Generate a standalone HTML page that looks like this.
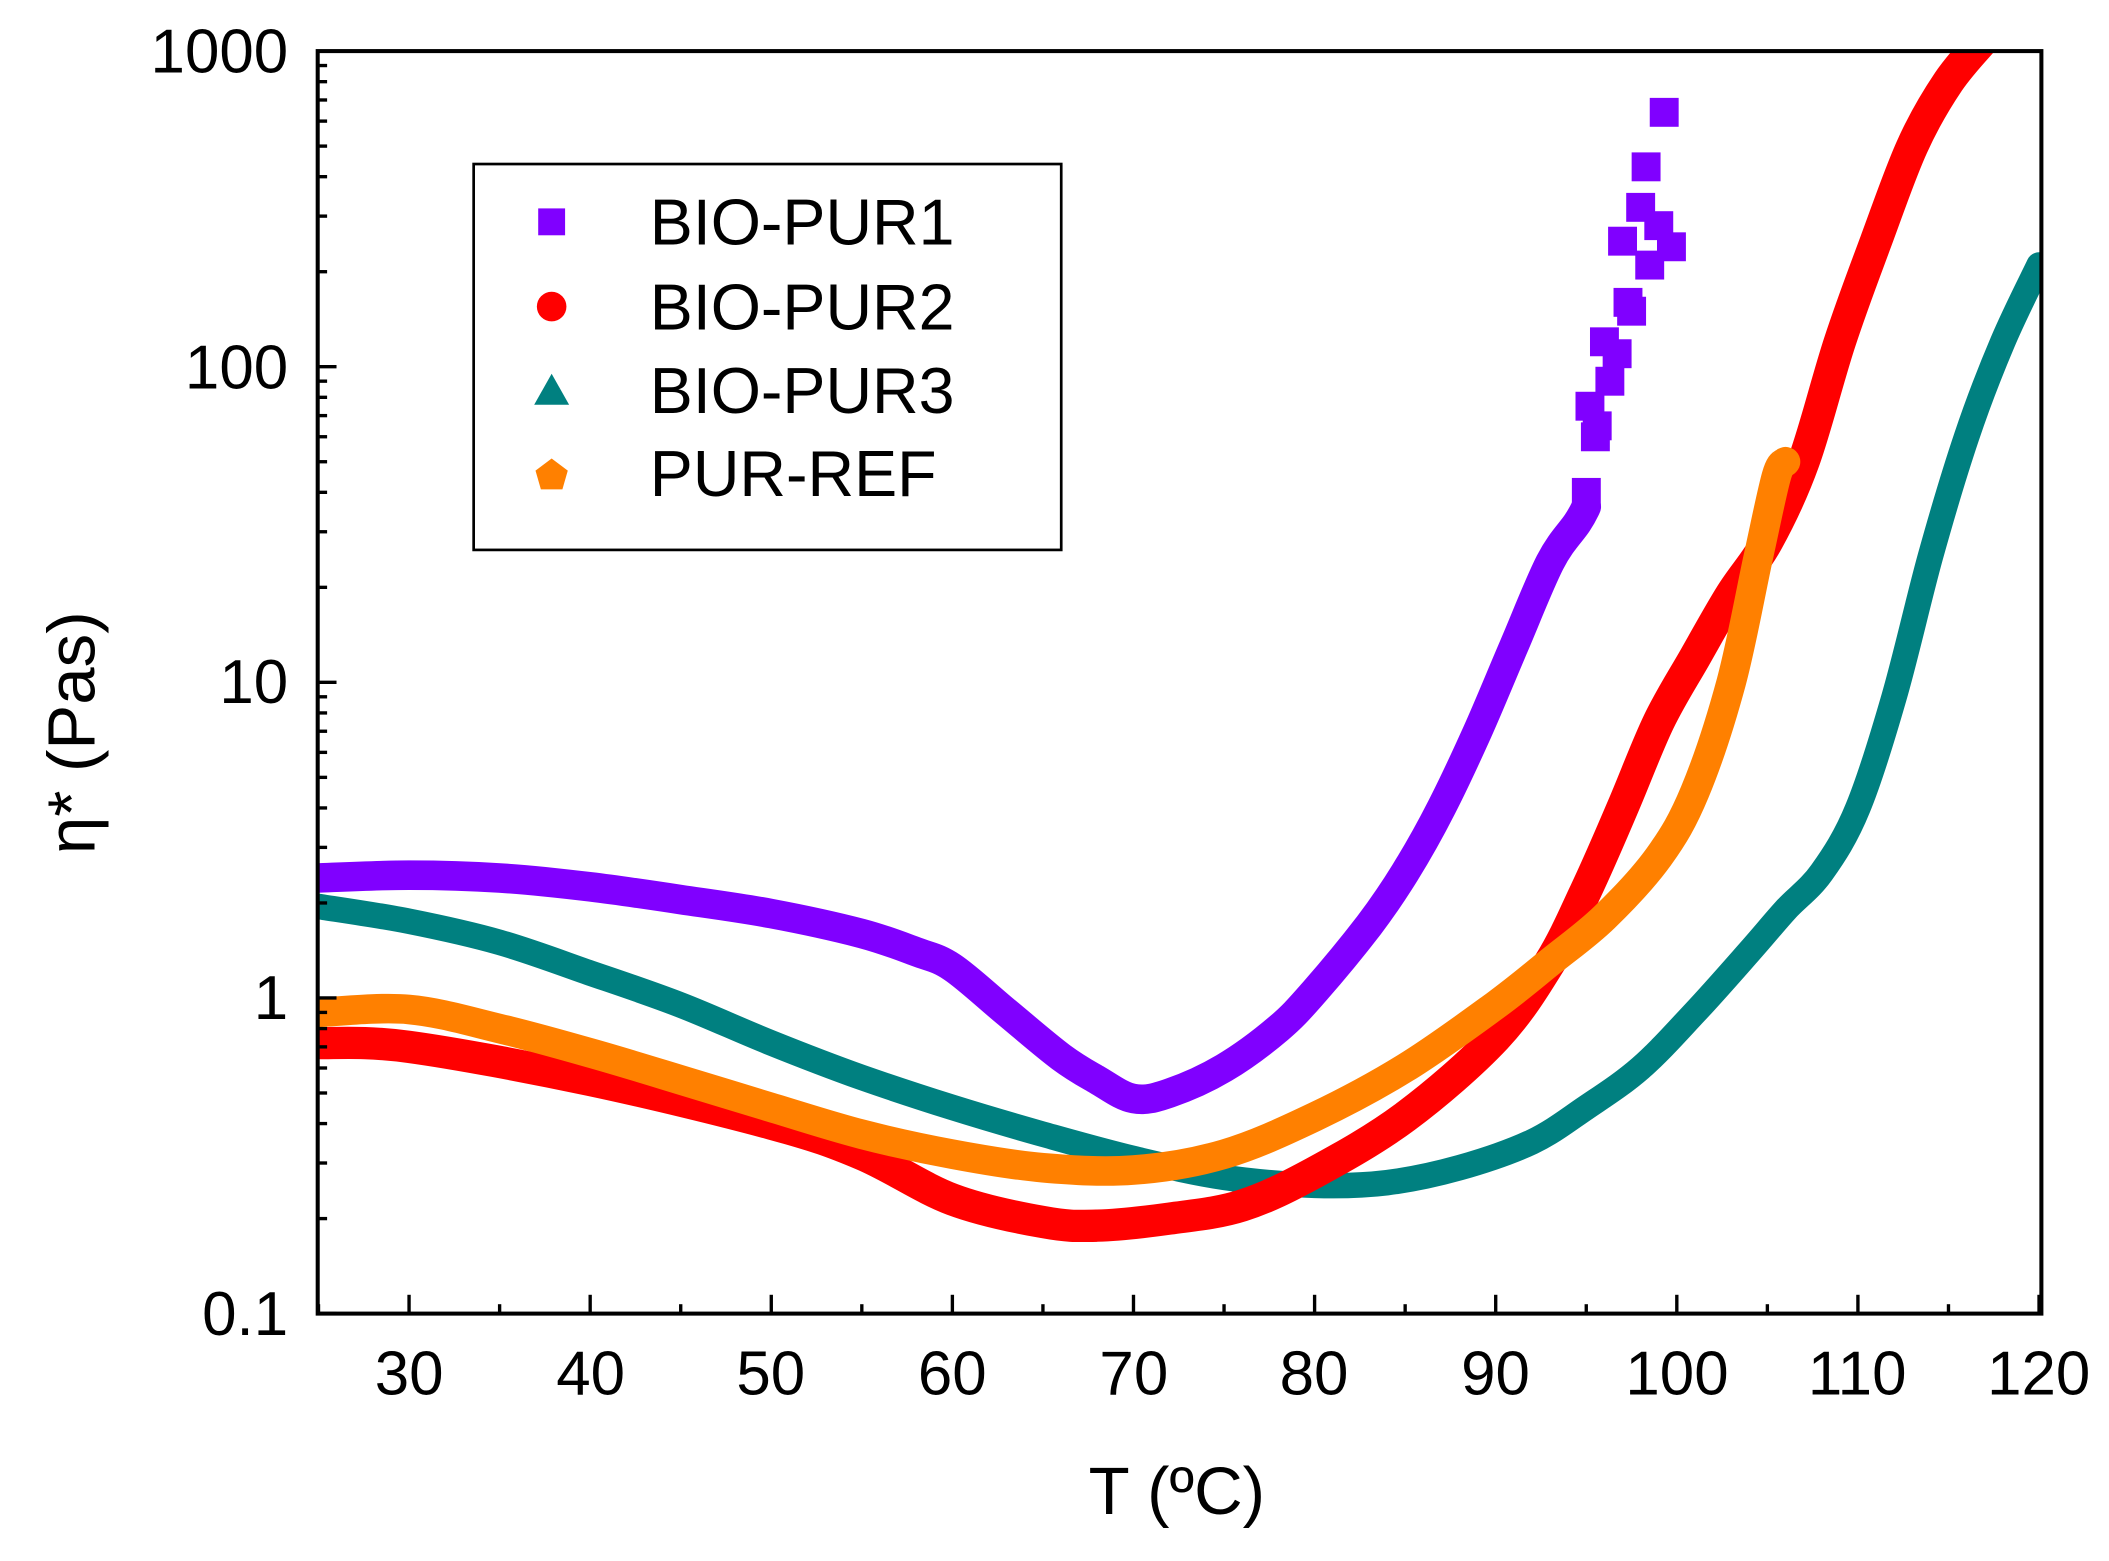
<!DOCTYPE html>
<html><head><meta charset="utf-8"><style>
html,body{margin:0;padding:0;background:#fff;}
svg{display:block;}
text{font-family:"Liberation Sans",sans-serif;fill:#000;}
</style></head><body>
<svg id="s" width="2109" height="1561" viewBox="0 0 1568 1161" xmlns="http://www.w3.org/2000/svg">
<rect width="1568" height="1161" fill="#fff"/>
<defs><clipPath id="c"><rect x="236" y="38" width="1282" height="939"/></clipPath></defs>
<g id="curves" clip-path="url(#c)"></g>
<rect x="236" y="38" width="1282" height="939" fill="none" stroke="#000" stroke-width="3"/>
<g id="ticks" stroke="#000" stroke-width="2.5"></g>
<g font-size="46" text-anchor="middle">
<text x="304" y="1037">30</text><text x="439" y="1037">40</text><text x="573" y="1037">50</text>
<text x="708" y="1037">60</text><text x="843" y="1037">70</text><text x="977" y="1037">80</text>
<text x="1112" y="1037">90</text><text x="1247" y="1037">100</text><text x="1381" y="1037">110</text>
<text x="1516" y="1037">120</text>
</g>
<g font-size="46" text-anchor="end">
<text x="214" y="54">1000</text><text x="214" y="289">100</text><text x="214" y="523">10</text>
<text x="214" y="758">1</text><text x="214" y="993">0.1</text>
</g>
<text x="875" y="1126" font-size="50" text-anchor="middle">T (ºC)</text>
<text transform="translate(70,545) rotate(-90)" font-size="50" text-anchor="middle">η* (Pas)</text>
<rect x="352" y="122" width="437" height="287" fill="#fff" stroke="#000" stroke-width="2"/>
<rect x="400" y="155" width="20" height="20" fill="#8000FF"/>
<circle cx="410" cy="228" r="11" fill="#FF0000"/>
<polygon points="410,278 423,301 397,301" fill="#008080"/>
<polygon points="410,341 422,350 418,364 402,364 398,350" fill="#FF8000"/>
<g font-size="48"><text x="483" y="182">BIO-PUR1</text><text x="483" y="245">BIO-PUR2</text>
<text x="483" y="307">BIO-PUR3</text><text x="483" y="369">PUR-REF</text></g>
</svg>
<script>
const X=t=>236.6+(t-25)*13.47, Y=v=>38+(3-Math.log10(v))*234.75;
const NS="http://www.w3.org/2000/svg";
const g=document.getElementById('curves');
function line(d,col,w){const P=d.map(a=>[X(a[0]),Y(a[1])]);
let s='M'+P[0][0]+','+P[0][1];
for(let i=0;i<P.length-1;i++){const p0=P[Math.max(0,i-1)],p1=P[i],p2=P[i+1],p3=P[Math.min(P.length-1,i+2)];
const c1=[p1[0]+(p2[0]-p0[0])/6,p1[1]+(p2[1]-p0[1])/6],c2=[p2[0]-(p3[0]-p1[0])/6,p2[1]-(p3[1]-p1[1])/6];
s+=` C${c1[0].toFixed(1)},${c1[1].toFixed(1)} ${c2[0].toFixed(1)},${c2[1].toFixed(1)} ${p2[0].toFixed(1)},${p2[1].toFixed(1)}`;}
const p=document.createElementNS(NS,'path');p.setAttribute('d',s);
p.setAttribute('fill','none');p.setAttribute('stroke',col);p.setAttribute('stroke-width',w);
p.setAttribute('stroke-linejoin','round');p.setAttribute('stroke-linecap','round');g.appendChild(p);}
const teal=[[25,1.95],[30,1.75],[35,1.5],[40,1.2],[45,0.95],[50,0.72],[55,0.56],[60,0.45],[65,0.37],[70,0.31],[75,0.27],[80,0.255],[84,0.26],[88,0.29],[92,0.35],[95,0.45],[98,0.6],[101,0.9],[104,1.4],[106,1.9],[108,2.5],[110,4],[112,9],[114,25],[116,60],[118,120],[120,210]];
const red=[[25,0.72],[30,0.7],[40,0.55],[50,0.4],[55,0.32],[60,0.23],[65,0.195],[68,0.19],[72,0.2],[76,0.22],[80,0.28],[85,0.42],[90,0.75],[93,1.3],[95,2.2],[97,4],[99,7.5],[101,12],[103,19],[105,28],[107,50],[109,120],[111,250],[113,500],[115,800],[117,1100]];
const orange=[[25,0.9],[30,0.92],[35,0.8],[40,0.67],[45,0.55],[50,0.45],[55,0.37],[60,0.32],[65,0.29],[70,0.285],[75,0.32],[80,0.42],[85,0.6],[90,0.95],[93,1.3],[96,1.8],[99,2.8],[101,4.5],[103,10],[104.5,25],[105.5,45],[106,50]];
const purple=[[25,2.4],[30,2.45],[35,2.4],[40,2.25],[45,2.05],[50,1.85],[55,1.6],[58,1.4],[60,1.25],[63,0.9],[66,0.65],[68,0.55],[70,0.48],[72,0.5],[75,0.6],[78,0.8],[80,1.05],[83,1.7],[85,2.5],[87,4],[89,7],[91,13],[93,24],[94.5,32],[95,36]];
line(teal,'#008080',19);line(red,'#FF0000',24);line(orange,'#FF8000',22);line(purple,'#8000FF',22);
[[95,40],[95.2,75],[95.5,60],[95.6,65],[96,120],[96.3,90],[96.7,110],[97,250],[97.3,160],[97.5,150],[98,320],[98.3,430],[98.5,210],[99,280],[99.3,640],[99.7,240]].forEach(a=>{
const r=document.createElementNS(NS,'rect');r.setAttribute('x',X(a[0])-10.7);r.setAttribute('y',Y(a[1])-10.7);
r.setAttribute('width',21.5);r.setAttribute('height',21.5);r.setAttribute('fill','#8000FF');g.appendChild(r);});
const tk=document.getElementById('ticks');
function tl(x1,y1,x2,y2){const l=document.createElementNS(NS,'line');l.setAttribute('x1',x1);l.setAttribute('y1',y1);l.setAttribute('x2',x2);l.setAttribute('y2',y2);tk.appendChild(l);}
for(let t=25;t<=120;t+=5){const x=X(t);tl(x,977,x,t%10==0?963:970);}
for(let e=-1;e<3;e++)for(let m=1;m<10;m++){const y=Y(m*Math.pow(10,e));tl(236,y,m==1?250:243,y);}
</script>
</body></html>
